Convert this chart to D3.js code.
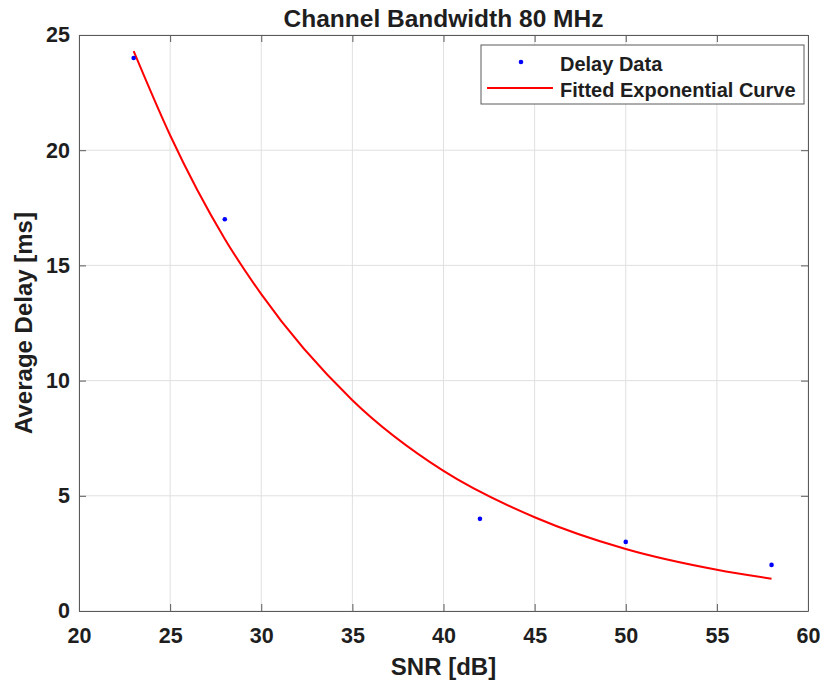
<!DOCTYPE html>
<html>
<head>
<meta charset="utf-8">
<script src="https://cdn.jsdelivr.net/npm/d3@7"></script>
<style>
  html, body { margin: 0; padding: 0; background: #fff; }
  svg { display: block; font-family: "Liberation Sans", Arial, Helvetica, sans-serif; }
</style>
</head>
<body>
<div id="chart"></div>
<script>
// measured data points
const snrData = [23, 28, 42, 50, 58];
const delayData = [24, 17, 4, 3, 2];

// fitted curve, values at sample SNRs
const curveSnr = [23, 25, 28, 30, 35, 40, 45, 50, 55, 58];
const curveDelay = [24.3, 20.65, 16.15, 13.75, 9.15, 6.08, 4.07, 2.69, 1.79, 1.40];

const xTicks = [20, 25, 30, 35, 40, 45, 50, 55, 60];
const yTicks = [0, 5, 10, 15, 20, 25];

const width = 829;
const height = 686;
const margin = { top: 35, right: 21, bottom: 75, left: 79 };
const innerW = width - margin.left - margin.right;
const innerH = height - margin.top - margin.bottom;

const textColor = '#1e1e1e';
const axisColor = '#5a5a5a';
const gridColor = '#e0e0e0';

const svg = d3.select('#chart')
  .append('svg')
  .attr('width', width)
  .attr('height', height);

const g = svg.append('g')
  .attr('transform', `translate(${margin.left},${margin.top})`);

const x = d3.scaleLinear().domain([20, 60]).range([0, innerW]);
const y = d3.scaleLinear().domain([0, 25]).range([innerH, 0]);

// grid
g.append('g')
  .selectAll('line')
  .data(xTicks)
  .join('line')
  .attr('x1', d => x(d)).attr('x2', d => x(d))
  .attr('y1', 0).attr('y2', innerH)
  .attr('stroke', gridColor).attr('stroke-width', 1);

g.append('g')
  .selectAll('line')
  .data(yTicks)
  .join('line')
  .attr('x1', 0).attr('x2', innerW)
  .attr('y1', d => y(d)).attr('y2', d => y(d))
  .attr('stroke', gridColor).attr('stroke-width', 1);

// axes: ticks point inward, box drawn on all sides
const tickLen = 7;
const styleAxis = (sel) => {
  sel.select('.domain').attr('stroke', axisColor);
  sel.selectAll('.tick line').attr('stroke', axisColor);
  sel.selectAll('.tick text')
    .attr('fill', textColor)
    .attr('font-size', '21.5px')
    .attr('font-weight', 'bold');
};

g.append('g')
  .attr('transform', `translate(0,${innerH})`)
  .call(d3.axisBottom(x).tickValues(xTicks).tickSize(-tickLen).tickSizeOuter(0).tickPadding(17))
  .call(styleAxis);

g.append('g')
  .call(d3.axisTop(x).tickValues(xTicks).tickSize(-tickLen).tickSizeOuter(0).tickFormat(''))
  .call(styleAxis);

g.append('g')
  .call(d3.axisLeft(y).tickValues(yTicks).tickSize(-tickLen).tickSizeOuter(0).tickPadding(9))
  .call(styleAxis);

g.append('g')
  .attr('transform', `translate(${innerW},0)`)
  .call(d3.axisRight(y).tickValues(yTicks).tickSize(-tickLen).tickSizeOuter(0).tickFormat(''))
  .call(styleAxis);

// fitted curve
const line = d3.line()
  .x(d => x(d[0]))
  .y(d => y(d[1]))
  .curve(d3.curveMonotoneX);

g.append('path')
  .datum(d3.zip(curveSnr, curveDelay))
  .attr('fill', 'none')
  .attr('stroke', '#ff0000')
  .attr('stroke-width', 2)
  .attr('d', line);

// data points
g.append('g')
  .selectAll('circle')
  .data(d3.zip(snrData, delayData))
  .join('circle')
  .attr('cx', d => x(d[0]))
  .attr('cy', d => y(d[1]))
  .attr('r', 2.3)
  .attr('fill', '#0000ff');

// title and axis labels
svg.append('text')
  .attr('x', margin.left + innerW / 2)
  .attr('y', 27)
  .attr('text-anchor', 'middle')
  .attr('font-size', '24.5px')
  .attr('font-weight', 'bold')
  .attr('fill', textColor)
  .text('Channel Bandwidth 80 MHz');

svg.append('text')
  .attr('x', margin.left + innerW / 2)
  .attr('y', 675)
  .attr('text-anchor', 'middle')
  .attr('font-size', '24px')
  .attr('font-weight', 'bold')
  .attr('fill', textColor)
  .text('SNR [dB]');

svg.append('text')
  .attr('transform', `translate(32,${margin.top + innerH / 2}) rotate(-90)`)
  .attr('text-anchor', 'middle')
  .attr('font-size', '24px')
  .attr('font-weight', 'bold')
  .attr('fill', textColor)
  .text('Average Delay [ms]');

// legend
const legend = svg.append('g').attr('transform', 'translate(481,45)');

legend.append('rect')
  .attr('width', 323)
  .attr('height', 59)
  .attr('fill', '#fff')
  .attr('stroke', axisColor)
  .attr('stroke-width', 1);

legend.append('circle')
  .attr('cx', 40).attr('cy', 17)
  .attr('r', 2.3)
  .attr('fill', '#0000ff');

legend.append('line')
  .attr('x1', 6).attr('x2', 72)
  .attr('y1', 43).attr('y2', 43)
  .attr('stroke', '#ff0000')
  .attr('stroke-width', 2);

const legendLabels = ['Delay Data', 'Fitted Exponential Curve'];
legend.selectAll('text.lbl')
  .data(legendLabels)
  .join('text')
  .attr('class', 'lbl')
  .attr('x', 79)
  .attr('y', (d, i) => 26 + i * 26)
  .attr('font-size', '20px')
  .attr('font-weight', 'bold')
  .attr('fill', textColor)
  .text(d => d);
</script>
</body>
</html>
